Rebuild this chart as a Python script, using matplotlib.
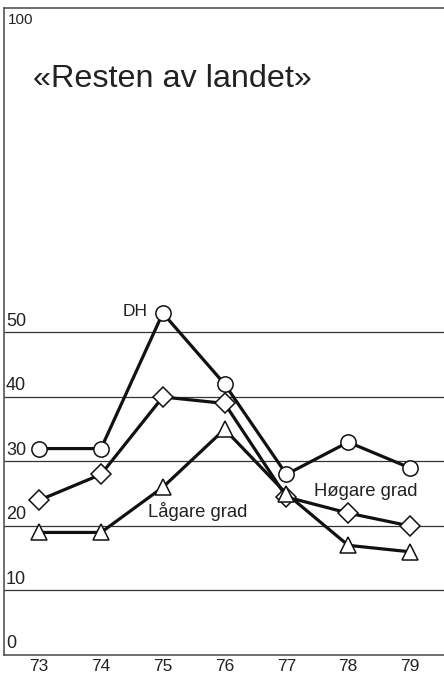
import matplotlib.pyplot as plt

years = [73, 74, 75, 76, 77, 78, 79]
year_labels = ['73', '74', '75', '76', '77', '78', '79']
dh = [32, 32, 53, 42, 28, 33, 29]
hogare = [24, 28, 40, 39, 24.5, 22, 20]
lagare = [19, 19, 26, 35, 25, 17, 16]
grid_levels = [10, 20, 30, 40, 50]
y_labels = [0, 10, 20, 30, 40, 50, 100]

plt.rcParams['font.family'] = ['Liberation Sans', 'DejaVu Sans']

fig = plt.figure(figsize=(4.44, 6.74), dpi=100)
ax = fig.add_axes([4 / 444, 19 / 674, 440 / 444, 647 / 674])
ax.set_xlim(72.43, 79.55)
ax.set_ylim(0, 100.3)

for g in grid_levels:
    ax.axhline(g, color='#333333', lw=0.9, zorder=1)

style = dict(color='#111111', lw=2.3, mfc='white', mec='#111111', mew=1.1, zorder=3)
ax.plot(years, dh, marker='o', ms=11, **style)
ax.plot(years, hogare, marker='D', ms=10, **style)
ax.plot(years, lagare, marker='^', ms=11.5, **style)

for v in y_labels:
    if v == 100:
        ax.text(72.5, 99.5, str(v), fontsize=11, va='top', ha='left', color='#222222')
    else:
        ax.text(72.46, v + 0.4, str(v), fontsize=13, va='bottom', ha='left', color='#222222')

ax.text(74.76, 53.2, 'DH', fontsize=12.5, ha='right', va='center', color='#222222')
ax.text(75.56, 22.3, 'Lågare grad', fontsize=13.3, ha='center', va='center', color='#222222')
ax.text(78.29, 25.3, 'Høgare grad', fontsize=13.3, ha='center', va='center', color='#222222')
ax.text(72.9, 89.3, '«Resten av landet»', fontsize=23.3, ha='left', va='center', color='#222222')

ax.set_xticks(years)
ax.set_xticklabels(year_labels, fontsize=12.5, color='#222222')
ax.tick_params(axis='x', length=0, pad=3)
ax.set_yticks([])
for side in ['left', 'top', 'bottom']:
    ax.spines[side].set_color('#555555')
    ax.spines[side].set_linewidth(1.2)
ax.spines['right'].set_visible(False)

fig.savefig('out.png', dpi=100)
